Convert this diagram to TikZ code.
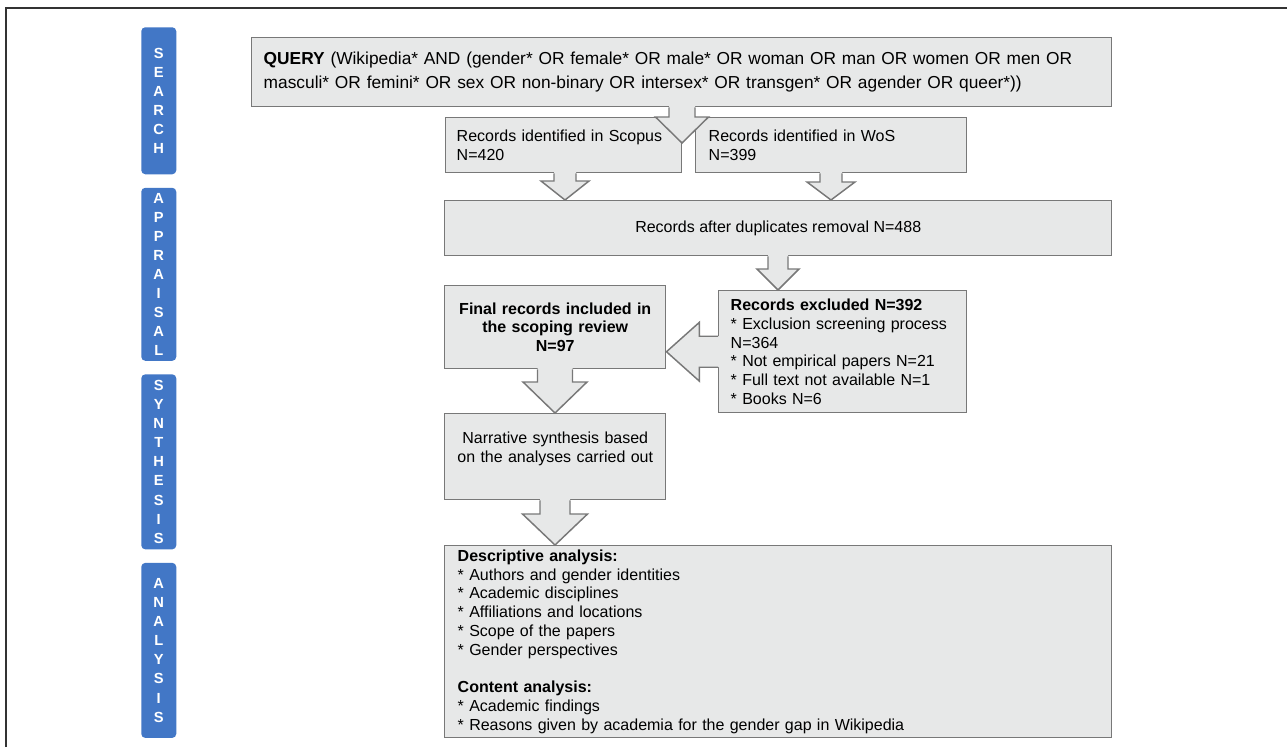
\documentclass[tikz,border=0pt]{standalone}
\usepackage{fontspec}
\setmainfont{Liberation Sans}
\usetikzlibrary{positioning,calc}
\definecolor{fondgris}{HTML}{E7E8E8}
\definecolor{bordgris}{HTML}{787878}
\definecolor{bleuetape}{HTML}{4277C6}
\definecolor{cadre}{HTML}{333333}
\tikzset{
  boite/.style={rectangle, draw=bordgris, line width=1.1pt, fill=fondgris, anchor=north west,
                font=\fontsize{12}{14.1}\selectfont, inner ysep=0pt},
  etape/.style={rectangle, rounded corners=3pt, fill=bleuetape, text=white, align=center,
                font=\bfseries\fontsize{11}{14.3}\selectfont, minimum width=26.25pt, inner sep=0pt},
  fleche/.style={draw=bordgris, line width=1.1pt, line join=miter},
}
% grosse fleche vers le bas : #1 haut du fut, #2 pointe, #3 demi-fut, #4 demi-tete, #5 longueur tete
\newcommand{\flechebas}[5]{%
  \fill[fondgris] ($#1+(-#3,-2)$) -- ($#2+(-#3,-#5)$) -- ($#2+(-#4,-#5)$) -- #2
    -- ($#2+(#4,-#5)$) -- ($#2+(#3,-#5)$) -- ($#1+(#3,-2)$) -- cycle;
  \draw[fleche] ($#1+(-#3,0)$) -- ($#2+(-#3,-#5)$) -- ($#2+(-#4,-#5)$) -- #2
    -- ($#2+(#4,-#5)$) -- ($#2+(#3,-#5)$) -- ($#1+(#3,0)$);
}

\begin{document}
\begin{tikzpicture}[x=0.75pt, y=-0.75pt, node distance=9.75pt]
  \useasboundingbox (0,0) rectangle (1287,747);
  \draw[cadre, line width=1.5pt] (6,747) -- (6,8) -- (1287,8);
  % phases
  \node[etape, minimum height=110.25pt, anchor=north west] (search) at (141,27) {S\\E\\A\\R\\C\\H};
  \node[etape, minimum height=129.75pt, below=of search] (apprais) {A\\P\\P\\R\\A\\I\\S\\A\\L};
  \node[etape, minimum height=131.25pt, below=of apprais] (synth) {S\\Y\\N\\T\\H\\E\\S\\I\\S};
  \node[etape, minimum height=131.25pt, below=of synth] (analys) {A\\N\\A\\L\\Y\\S\\I\\S};
  % boites
  \node[boite, minimum width=645pt, minimum height=51.75pt, text width=627pt, inner xsep=9pt,
        align=left, font=\fontsize{13}{18}\selectfont] (query) at (251,37)
    {\textbf{QUERY} (Wikipedia* AND (gender* OR female* OR male* OR woman OR man OR women OR men OR\\
     masculi* OR femini* OR sex OR non-binary OR intersex* OR transgen* OR agender OR queer*))};
  \node[boite, minimum height=41.25pt, text width=160.5pt, inner xsep=8.25pt, align=left] (scop) at (445,117)
    {Records identified in Scopus\\N=420};
  \node[boite, minimum height=41.25pt, text width=183.75pt, inner xsep=9.75pt, align=left] (wos) at (695,117)
    {Records identified in WoS\\N=399};
  \node[boite, minimum width=500.25pt, minimum height=41.25pt, align=center] (dup) at (444,200)
    {Records after duplicates removal N=488};
  \node[boite, minimum height=62.25pt, text width=165.75pt, inner xsep=0pt, align=center,
        font=\bfseries\fontsize{12}{14.1}\selectfont] (final) at (444,285)
    {Final records included in\\the scoping review\\N=97};
  \node[boite, minimum height=91.5pt, text width=168pt, inner xsep=9pt, align=left] (excl) at (718,290)
    {\textbf{Records excluded N=392}\\{}* Exclusion screening process\\N=364\\{}* Not empirical papers N=21\\
     {}* Full text not available N=1\\{}* Books N=6};
  \node[boite, minimum height=64.5pt, text width=165.75pt, inner xsep=0pt, align=center] (narr) at (444,413)
    {Narrative synthesis based\\on the analyses carried out\\\mbox{}};
  \node[boite, minimum height=144pt, text width=480.75pt, inner xsep=9.75pt, align=left] (desc) at (444,545)
    {\textbf{Descriptive analysis:}\\{}* Authors and gender identities\\{}* Academic disciplines\\
     {}* Affiliations and locations\\{}* Scope of the papers\\{}* Gender perspectives\\[14.1pt]
     \textbf{Content analysis:}\\{}* Academic findings\\{}* Reasons given by academia for the gender gap in Wikipedia};
  % fleches
  \coordinate (fourche) at (682,143);
  \coordinate (col1) at (565,0);
  \coordinate (col2) at (831,0);
  \coordinate (col3) at (778,0);
  \coordinate (col4) at (555,0);
  \flechebas{(query.south -| fourche)}{(fourche)}{13}{26.5}{26}
  \flechebas{(scop.south -| col1)}{(dup.north -| col1)}{11}{24}{19}
  \flechebas{(wos.south -| col2)}{(dup.north -| col2)}{11}{24}{18}
  \flechebas{(dup.south -| col3)}{(excl.north -| col3)}{10}{21}{21}
  \flechebas{(final.south -| col4)}{(narr.north -| col4)}{17.5}{32}{31}
  \flechebas{(narr.south -| col4)}{(desc.north -| col4)}{15}{32.5}{31}
  \coordinate (pointe) at (final.east |- excl.west);
  \fill[fondgris] ($(excl.west)+(2,-15.5)$) -- ($(pointe)+(33,-15.5)$) -- ($(pointe)+(33,-29.5)$) -- (pointe)
    -- ($(pointe)+(33,29.5)$) -- ($(pointe)+(33,15.5)$) -- ($(excl.west)+(2,15.5)$) -- cycle;
  \draw[fleche] ($(excl.west)+(0,-15.5)$) -- ($(pointe)+(33,-15.5)$) -- ($(pointe)+(33,-29.5)$) -- (pointe)
    -- ($(pointe)+(33,29.5)$) -- ($(pointe)+(33,15.5)$) -- ($(excl.west)+(0,15.5)$);
\end{tikzpicture}
\end{document}
